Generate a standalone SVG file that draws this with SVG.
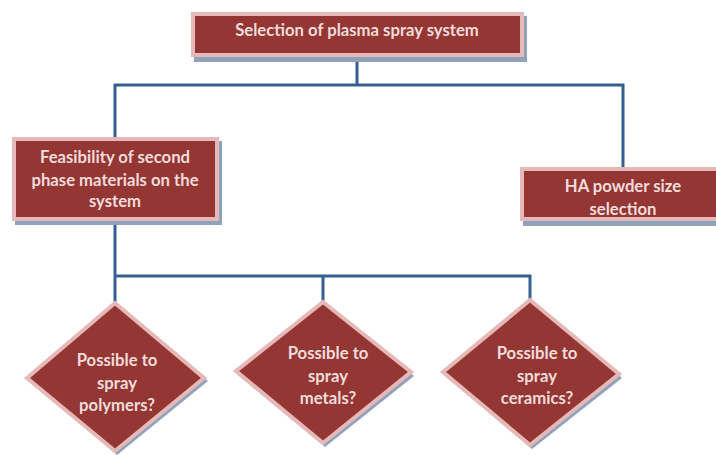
<svg xmlns="http://www.w3.org/2000/svg" width="716" height="455" viewBox="0 0 716 455">
  <style>
    .shadow { fill: #8fa2ba; }
    .box { fill: #943634; stroke: #e6b9b8; stroke-width: 4; }
    .lbl { font-family: Lato, "Open Sans", sans-serif; font-weight: bold; font-size: 16.7px; fill: #f2dcdb; text-anchor: middle; }
    .wire { fill: none; stroke: #365f91; stroke-width: 3; }
  </style>
  <rect width="716" height="455" fill="#ffffff"/>

  <!-- connectors -->
  <g id="connectors" class="wire">
    <path d="M357 57 V85 M115 138 V85 H623 V167"/>
    <path d="M115 221 V276 H530 V301 M115 276 V303 M323 276 V302"/>
  </g>

  <!-- root box -->
  <g id="plasma-system">
    <rect class="shadow" x="194" y="16" width="333" height="46"/>
    <rect class="box" x="193" y="14" width="329" height="41"/>
    <text class="lbl" x="357" y="36">Selection of plasma spray system</text>
  </g>

  <g id="second-phase">
    <rect class="shadow" x="15" y="141" width="207" height="84"/>
    <rect class="box" x="14" y="139" width="203" height="80"/>
    <text class="lbl" x="115" y="163">Feasibility of second</text>
    <text class="lbl" x="115" y="186">phase materials on the</text>
    <text class="lbl" x="115" y="207">system</text>
  </g>

  <g id="powder-size">
    <rect class="shadow" x="523" y="171" width="210" height="55"/>
    <rect class="box" x="522" y="169" width="210" height="50"/>
    <text class="lbl" x="623" y="192">HA powder size</text>
    <text class="lbl" x="623" y="215">selection</text>
  </g>

  <g id="polymers">
    <polygon class="shadow" points="117,306 208,381 117,455 29,381"/>
    <polygon class="box" points="115,303 204,378 115,451 27,378"/>
    <text class="lbl" x="117" y="366">Possible to</text>
    <text class="lbl" x="117" y="389">spray</text>
    <text class="lbl" x="117" y="411">polymers?</text>
  </g>

  <g id="metals">
    <polygon class="shadow" points="325,305 414,376 325,447 238,375"/>
    <polygon class="box" points="323,302 411,372 323,443 236,371"/>
    <text class="lbl" x="328" y="359">Possible to</text>
    <text class="lbl" x="328" y="382">spray</text>
    <text class="lbl" x="328" y="404">metals?</text>
  </g>

  <g id="ceramics">
    <polygon class="shadow" points="532,303 622,378 532,449 445,376"/>
    <polygon class="box" points="530,300 619,374 530,445 443,372"/>
    <text class="lbl" x="537" y="359">Possible to</text>
    <text class="lbl" x="537" y="382">spray</text>
    <text class="lbl" x="537" y="404">ceramics?</text>
  </g>
</svg>
